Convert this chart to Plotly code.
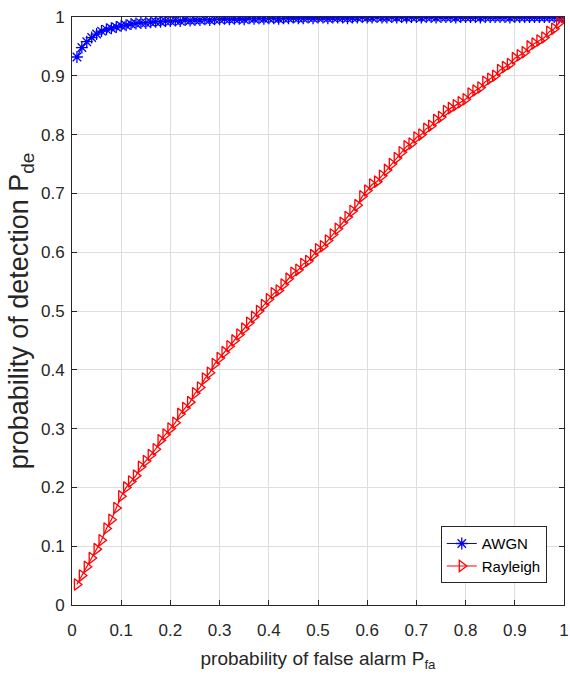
import plotly.graph_objects as go

pfa = [0.01, 0.02, 0.03, 0.04, 0.05, 0.06, 0.07, 0.08, 0.09, 0.10,
       0.11, 0.12, 0.13, 0.14, 0.15, 0.16, 0.17, 0.18, 0.19, 0.20,
       0.21, 0.22, 0.23, 0.24, 0.25, 0.26, 0.27, 0.28, 0.29, 0.30,
       0.31, 0.32, 0.33, 0.34, 0.35, 0.36, 0.37, 0.38, 0.39, 0.40,
       0.41, 0.42, 0.43, 0.44, 0.45, 0.46, 0.47, 0.48, 0.49, 0.50,
       0.51, 0.52, 0.53, 0.54, 0.55, 0.56, 0.57, 0.58, 0.59, 0.60,
       0.61, 0.62, 0.63, 0.64, 0.65, 0.66, 0.67, 0.68, 0.69, 0.70,
       0.71, 0.72, 0.73, 0.74, 0.75, 0.76, 0.77, 0.78, 0.79, 0.80,
       0.81, 0.82, 0.83, 0.84, 0.85, 0.86, 0.87, 0.88, 0.89, 0.90,
       0.91, 0.92, 0.93, 0.94, 0.95, 0.96, 0.97, 0.98, 0.99, 1.00]

pd_awgn = [0.932, 0.948, 0.958, 0.965, 0.971, 0.976, 0.979, 0.981, 0.983, 0.985,
           0.986, 0.988, 0.989, 0.990, 0.990, 0.991, 0.992, 0.992, 0.993, 0.993,
           0.994, 0.993, 0.995, 0.994, 0.995, 0.995, 0.996, 0.995, 0.996, 0.996,
           0.997, 0.996, 0.997, 0.997, 0.996, 0.998, 0.997, 0.998, 0.997, 0.998,
           0.998, 0.997, 0.998, 0.998, 0.999, 0.998, 0.998, 0.999, 0.998, 0.999,
           0.999, 0.998, 0.999, 0.999, 0.999, 0.998, 0.999, 0.999, 1.000, 0.999,
           0.999, 1.000, 0.999, 0.999, 1.000, 0.999, 1.000, 0.999, 1.000, 1.000,
           0.999, 1.000, 1.000, 0.999, 1.000, 1.000, 1.000, 0.999, 1.000, 1.000,
           1.000, 1.000, 0.999, 1.000, 1.000, 1.000, 1.000, 1.000, 0.999, 1.000,
           1.000, 1.000, 1.000, 1.000, 1.000, 1.000, 1.000, 1.000, 1.000, 1.000]

pd_rayleigh = [0.035, 0.050, 0.065, 0.080, 0.095, 0.110, 0.130, 0.145, 0.165, 0.185,
               0.200, 0.210, 0.220, 0.235, 0.245, 0.255, 0.265, 0.280, 0.290, 0.300,
               0.310, 0.325, 0.335, 0.345, 0.360, 0.370, 0.385, 0.395, 0.410, 0.420,
               0.430, 0.440, 0.450, 0.460, 0.470, 0.480, 0.490, 0.500, 0.510, 0.520,
               0.530, 0.535, 0.545, 0.555, 0.565, 0.570, 0.580, 0.585, 0.595, 0.605,
               0.610, 0.620, 0.630, 0.640, 0.650, 0.660, 0.670, 0.680, 0.695, 0.705,
               0.715, 0.720, 0.730, 0.740, 0.750, 0.760, 0.770, 0.780, 0.785, 0.795,
               0.800, 0.810, 0.815, 0.825, 0.830, 0.840, 0.845, 0.850, 0.855, 0.860,
               0.870, 0.875, 0.880, 0.890, 0.895, 0.900, 0.910, 0.915, 0.920, 0.930,
               0.935, 0.940, 0.950, 0.955, 0.960, 0.965, 0.975, 0.980, 0.990, 1.000]

tick_vals = [0, 0.1, 0.2, 0.3, 0.4, 0.5, 0.6, 0.7, 0.8, 0.9, 1]
tick_text = ["0", "0.1", "0.2", "0.3", "0.4", "0.5", "0.6", "0.7", "0.8", "0.9", "1"]

FONT = "Liberation Sans, Arial, Helvetica, sans-serif"
AXC = "#262626"

fig = go.Figure()
fig.add_trace(go.Scatter(
    x=pfa, y=pd_awgn, mode="lines+markers", name="AWGN",
    line=dict(color="#0000ff", width=1.2),
    marker=dict(symbol="asterisk-open", size=10, color="#0000ff",
                line=dict(color="#0000ff", width=1.3)),
))
fig.add_trace(go.Scatter(
    x=pfa, y=pd_rayleigh, mode="lines+markers", name="Rayleigh",
    line=dict(color="#ff0000", width=1.2),
    marker=dict(symbol="triangle-right-open", size=10, color="#ff0000",
                line=dict(color="#ff0000", width=1.3)),
))

axis_common = dict(
    range=[0, 1], tickvals=tick_vals, ticktext=tick_text,
    showgrid=True, gridcolor="#dedede", gridwidth=1,
    showline=True, linecolor=AXC, linewidth=1, mirror="ticks",
    ticks="inside", ticklen=5, tickcolor=AXC,
    tickfont=dict(family=FONT, size=17, color=AXC),
    zeroline=False, automargin=False,
)

fig.update_layout(
    width=570, height=689,
    margin=dict(l=72, r=6, t=17, b=84),
    paper_bgcolor="white", plot_bgcolor="white",
    font=dict(family=FONT, color=AXC),
    showlegend=True,
    legend=dict(
        x=0.965, y=0.037, xanchor="right", yanchor="bottom",
        bgcolor="white", bordercolor=AXC, borderwidth=1,
        font=dict(family=FONT, size=15, color="#000000"),
        tracegroupgap=0, itemwidth=30,
    ),
    xaxis=dict(axis_common, ticklabelstandoff=10,
               title=dict(text="probability of false alarm P<sub>fa</sub>",
                          font=dict(family=FONT, size=19, color=AXC),
                          standoff=12)),
    yaxis=dict(axis_common, ticklabelstandoff=3,
               title=dict(text="probability of detection P<sub>de</sub>",
                          font=dict(family=FONT, size=27, color=AXC),
                          standoff=4)),
)

fig.write_html("out.html")
